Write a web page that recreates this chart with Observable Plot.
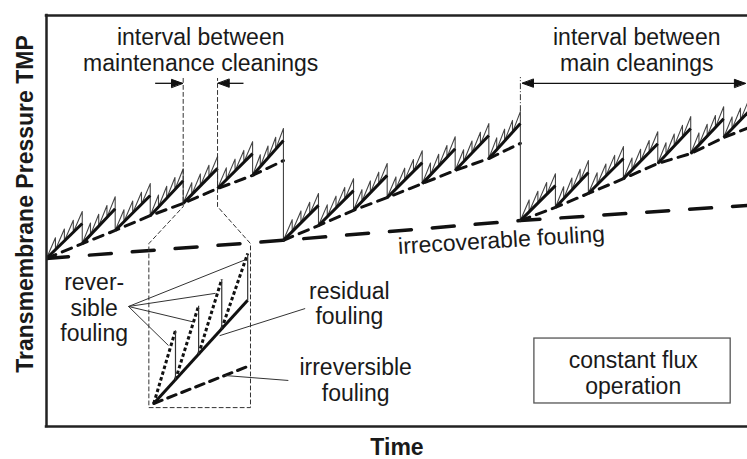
<!DOCTYPE html>
<html>
<head>
<meta charset="utf-8">
<script src="https://cdn.jsdelivr.net/npm/d3@7"></script>
<script src="https://cdn.jsdelivr.net/npm/@observablehq/plot@0.6"></script>
<style>
  html, body { margin: 0; padding: 0; background: #fff; }
  svg { display: block; }
</style>
</head>
<body>
<div id="chart"></div>
<script>
// ---- values (time and TMP in arbitrary units 0–100) ----
const mainCleaningTime = [0, 33.8, 67.6];
const mainCleaningEnd = [33.8, 67.6, 101.4];
const irrecoverableTime = [0, 33.8, 67.6, 100];
const irrecoverableTMP = [40.9, 45.3, 50.1, 53.8];

const maintStartsA = [0, 5.1, 9.8, 14.8, 19.5, 24.4, 29.4];
const maintStartsB = [33.8, 38.8, 43.8, 48.6, 53.6, 58.3, 63.1];
const maintStartsC = [67.6, 72.6, 77.3, 82.3, 87.2, 91.9, 96.6];
const irreversibleA = [40.9, 44.5, 47.7, 51.3, 54.3, 57.9, 61.1, 64.7];
const irreversibleB = [45.3, 48.9, 52.6, 55.7, 59.1, 62.3, 65.2, 68.9];
const irreversibleC = [50.1, 53.3, 56.7, 60.3, 64.0, 66.4, 70.3, 73.5];
const residualRise = 8.5;
const reversibleRise = 2.9;
const filtrationsPerCycle = 4;

// zoomed inset (one maintenance interval)
const insetTime = [15.3, 18.4, 21.7, 25.0, 28.7];
const insetResidual = [5.6, 11.4, 17.6, 23.8, 30.7];
const insetPeak = [23.4, 29.4, 35.8, 42.1];
const insetIrrTime = [15.3, 29.0];
const insetIrrTMP = [5.6, 14.8];
const insetOutlineTime = [19.5, 19.5, 14.6, 14.6, 29.1, 29.1, 24.4, 24.4];
const insetOutlineTMP = [84.7, 53.5, 44.5, 4.6, 4.6, 44.5, 53.5, 84.7];

// pointer lines
const pointerFromTime = [11.7, 11.7, 11.7, 11.7, 36.9, 34.5];
const pointerFromTMP = [29.2, 29.2, 29.2, 29.2, 28.7, 11.2];
const pointerToTime = [28.4, 24.1, 20.8, 17.4, 24.7, 25.5];
const pointerToTMP = [40.6, 32.4, 25.5, 19.7, 22.1, 12.4];

// interval arrows
const arrowFromTime = [15.5, 28.1, 67.9];
const arrowToTime = [19.4, 24.5, 99.7];
const arrowTMP = [83.5, 83.5, 83.5];
const headTime = [19.4, 24.5, 67.9, 99.7];
const headTMP = [83.5, 83.5, 83.5, 83.5];
const headDirection = [90, -90, -90, 90];
const mainMarkerTime = [67.6];
const mainMarkerTMP = [76.6, 84.9];

// box
const boxTime = [69.6, 97.6];
const boxTMP = [5.6, 21.4];

// labels
const labelText = [
  "interval between\nmaintenance cleanings",
  "interval between\nmain cleanings",
  "rever-\nsible\nfouling",
  "residual\nfouling",
  "irreversible\nfouling",
  "constant flux\noperation"
];
const labelTime = [22.0, 84.2, 6.8, 43.2, 44.1, 83.7];
const labelTMP = [91.6, 91.6, 29.0, 30.0, 11.4, 13.1];
const rotatedText = ["irrecoverable fouling"];
const rotatedTime = [64.9];
const rotatedTMP = [45.3];

// ---- derived tables for the library ----
const mains = [
  {starts: maintStartsA, irr: irreversibleA, end: mainCleaningEnd[0], next: irrecoverableTMP[1]},
  {starts: maintStartsB, irr: irreversibleB, end: mainCleaningEnd[1], next: irrecoverableTMP[2]},
  {starts: maintStartsC, irr: irreversibleC, end: mainCleaningEnd[2], next: irrecoverableTMP[3]}
];
const irreversibleRows = [];
const residualRows = [];
const sawRows = [];
mains.forEach((m, mi) => {
  const n = m.starts.length;
  for (let k = 0; k <= n; k++) {
    irreversibleRows.push({z: mi, t: k < n ? m.starts[k] : m.end, p: m.irr[k]});
  }
  sawRows.push({z: mi, t: m.starts[0], p: m.irr[0]});
  for (let k = 0; k < n; k++) {
    const t0 = m.starts[k];
    const t1 = k < n - 1 ? m.starts[k + 1] : m.end;
    const p0 = m.irr[k];
    residualRows.push({t1: t0, p1: p0, t2: t1, p2: p0 + residualRise});
    for (let j = 1; j <= filtrationsPerCycle; j++) {
      const t = t0 + (t1 - t0) * j / filtrationsPerCycle;
      const base = p0 + residualRise * j / filtrationsPerCycle;
      sawRows.push({z: mi, t, p: base + reversibleRise});
      if (j < filtrationsPerCycle) sawRows.push({z: mi, t, p: base});
      else sawRows.push({z: mi, t, p: k < n - 1 ? m.irr[k + 1] : m.next});
    }
  }
});
const idx = (a) => a.map((_, i) => i);

const FONT = "'Liberation Sans', Arial, Helvetica, sans-serif";
const INK = "#1a1a1a";
const headShape = {
  draw(context, l, r) {
    context.moveTo(0, -l);
    context.lineTo(-r, 0);
    context.lineTo(r, 0);
    context.closePath();
  }
};

const chart = Plot.plot({
  width: 747,
  height: 459,
  marginLeft: 46,
  marginRight: 0,
  marginTop: 15,
  marginBottom: 33,
  x: {domain: [0, 100], axis: null},
  y: {domain: [0, 100], axis: null},
  style: {fontFamily: FONT, background: "#fff", color: INK},
  marks: [
    // irrecoverable fouling
    Plot.line(idx(irrecoverableTime), {x: i => irrecoverableTime[i], y: i => irrecoverableTMP[i],
      stroke: "#111", strokeWidth: 3.5, strokeDasharray: "22,21", clip: true}),
    // irreversible fouling per main cycle
    Plot.line(irreversibleRows, {x: "t", y: "p", z: "z", stroke: "#111", strokeWidth: 3,
      strokeDasharray: "10,7", clip: true}),
    // reversible sawtooth (thin)
    Plot.line(sawRows, {x: "t", y: "p", z: "z", stroke: "#444", strokeWidth: 1.1, clip: true}),
    // residual fouling (thick)
    Plot.link(residualRows, {x1: "t1", y1: "p1", x2: "t2", y2: "p2", stroke: "#111",
      strokeWidth: 3, clip: true}),
    // main cleaning marker
    Plot.ruleX(mainMarkerTime, {y1: mainMarkerTMP[0], y2: mainMarkerTMP[1], stroke: "#333",
      strokeWidth: 1, strokeDasharray: "6,2,1,2"}),
    // inset outline and maintenance interval lines
    Plot.line(idx(insetOutlineTime), {x: i => insetOutlineTime[i], y: i => insetOutlineTMP[i],
      stroke: "#333", strokeWidth: 1, strokeDasharray: "4,3"}),
    // inset: irreversible
    Plot.line(idx(insetIrrTime), {x: i => insetIrrTime[i], y: i => insetIrrTMP[i],
      stroke: "#111", strokeWidth: 3, strokeDasharray: "9,6"}),
    // inset: residual
    Plot.link([0], {x1: () => insetTime[0], y1: () => insetResidual[0],
      x2: () => insetTime[insetTime.length - 1], y2: () => insetResidual[insetResidual.length - 1],
      stroke: "#111", strokeWidth: 3}),
    // inset: reversible (dotted rises)
    Plot.link(idx(insetPeak), {x1: i => insetTime[i], y1: i => insetResidual[i],
      x2: i => insetTime[i + 1], y2: i => insetPeak[i],
      stroke: "#111", strokeWidth: 3, strokeDasharray: "3.5,2.5"}),
    // inset: drops
    Plot.link(idx(insetPeak), {x1: i => insetTime[i + 1], y1: i => insetPeak[i],
      x2: i => insetTime[i + 1], y2: i => insetResidual[i + 1],
      stroke: "#333", strokeWidth: 1.2}),
    // pointer lines
    Plot.link(idx(pointerFromTime), {x1: i => pointerFromTime[i], y1: i => pointerFromTMP[i],
      x2: i => pointerToTime[i], y2: i => pointerToTMP[i], stroke: "#333", strokeWidth: 1}),
    // interval arrows
    Plot.link(idx(arrowFromTime), {x1: i => arrowFromTime[i], x2: i => arrowToTime[i],
      y1: i => arrowTMP[i], y2: i => arrowTMP[i], stroke: "#111", strokeWidth: 1.3}),
    Plot.vector(idx(headTime), {x: i => headTime[i], y: i => headTMP[i], rotate: i => headDirection[i],
      length: 11, r: 4, anchor: "end", shape: headShape, fill: "#111", stroke: "#111", strokeWidth: 1}),
    // box
    Plot.rect([boxTime], {x1: d => d[0], x2: d => d[1], y1: () => boxTMP[0], y2: () => boxTMP[1],
      fill: "#fff", stroke: "#555", strokeWidth: 1.3}),
    // labels
    Plot.text(labelText, {x: (d, i) => labelTime[i], y: (d, i) => labelTMP[i], text: d => d,
      fontSize: 23, lineHeight: 1.12, fill: INK, textAnchor: "middle", lineAnchor: "middle"}),
    Plot.text(rotatedText, {x: (d, i) => rotatedTime[i], y: (d, i) => rotatedTMP[i], text: d => d,
      fontSize: 23, fill: INK, rotate: -3.5, lineAnchor: "middle"}),
    // frame (left, top, bottom)
    Plot.ruleX([0], {y1: 0, y2: 100, stroke: "#222", strokeWidth: 2.5, strokeLinecap: "square"}),
    Plot.ruleY([0, 100], {stroke: "#222", strokeWidth: 2.5, strokeLinecap: "square"}),
    // axis titles
    Plot.text(["Time"], {frameAnchor: "bottom", dy: 21, lineAnchor: "middle", fontSize: 23,
      fontWeight: "bold", fill: INK}),
    Plot.text(["Transmembrane Pressure TMP"], {frameAnchor: "left", dx: -21, dy: -17, rotate: -90,
      textAnchor: "middle", lineAnchor: "middle", fontSize: 23, fontWeight: "bold", fill: INK})
  ]
});
document.getElementById("chart").appendChild(chart);
</script>
</body>
</html>
